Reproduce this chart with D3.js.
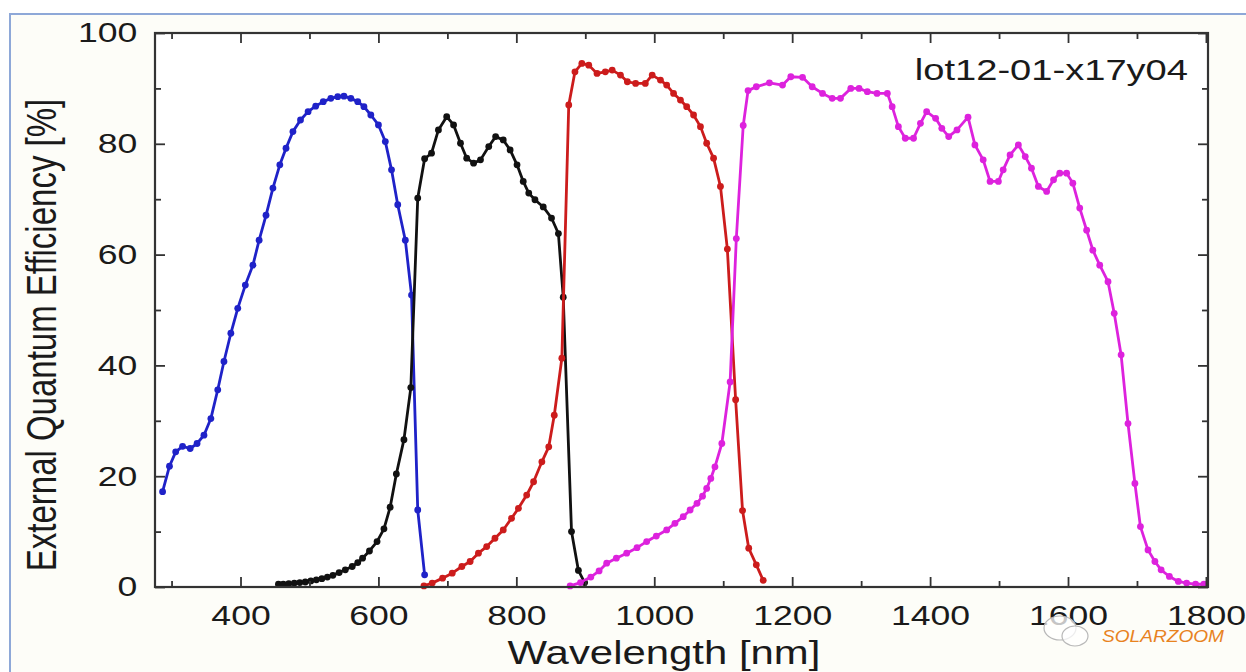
<!DOCTYPE html>
<html>
<head>
<meta charset="utf-8">
<script src="https://cdn.jsdelivr.net/npm/d3@7"></script>
<style>
  html, body { margin: 0; padding: 0; background: #fff; }
  svg text { font-family: "Liberation Sans", Arial, sans-serif; fill: #1a1a1a; }
</style>
</head>
<body>
<div id="chart"></div>
<script>
// wavelength [nm] and EQE [%] per sub-cell
const blueNm = [287, 297, 306, 316, 327, 337, 347, 357, 367, 376, 386, 396, 407, 418, 427, 437, 447, 457, 466, 476,
  487, 498, 509, 520, 531, 541, 550, 560, 570, 579, 589, 600, 610, 619, 628, 639, 648, 657, 667];
const blueEqe = [17.2, 21.8, 24.4, 25.4, 25.0, 25.9, 27.4, 30.4, 35.6, 40.7, 45.8, 50.3, 54.5, 58.1, 62.6, 67.1, 72.0, 76.2, 79.2, 82.2,
  84.3, 85.8, 86.8, 87.6, 88.2, 88.5, 88.6, 88.2, 87.6, 86.7, 85.2, 83.4, 80.4, 75.3, 69.0, 62.6, 52.7, 13.9, 2.2];

const blackNm = [455, 462, 470, 478, 486, 494, 502, 510, 518, 526, 534, 543, 552, 562, 570, 577, 587, 598, 608, 617,
  626, 637, 647, 657, 667, 677, 687, 699, 709, 719, 728, 738, 748, 760, 770, 781, 791, 801, 810, 818,
  827, 839, 851, 861, 868, 880, 890, 899];
const blackEqe = [0.5, 0.5, 0.6, 0.7, 0.8, 0.9, 1.1, 1.3, 1.5, 1.8, 2.1, 2.6, 3.1, 3.7, 4.4, 5.2, 6.5, 8.2, 10.5, 14.4,
  20.4, 26.6, 36.0, 70.2, 77.3, 78.3, 82.5, 84.9, 83.4, 80.1, 77.4, 76.5, 77.1, 79.5, 81.3, 80.7, 78.9, 76.2, 73.2, 71.1,
  69.9, 68.6, 66.6, 63.8, 52.3, 10.0, 3.0, 0.8];

const redNm = [666, 678, 693, 707, 721, 733, 745, 757, 769, 781, 793, 803, 815, 825, 837, 847, 855, 866, 876, 885,
  895, 905, 917, 929, 939, 951, 961, 973, 987, 997, 1009, 1018, 1028, 1038, 1047, 1057, 1067, 1076, 1086, 1096,
  1106, 1118, 1128, 1137, 1148, 1158];
const redEqe = [0.2, 0.7, 1.6, 2.5, 3.7, 4.6, 6.1, 7.3, 8.8, 10.3, 12.4, 14.2, 16.6, 19.0, 22.6, 25.3, 31.0, 41.3, 87.0, 93.0,
  94.5, 94.2, 92.7, 93.0, 93.3, 92.4, 91.2, 90.9, 90.9, 92.4, 91.5, 90.6, 89.1, 87.9, 86.7, 85.2, 83.1, 80.1, 77.4, 72.3,
  61.0, 33.8, 13.8, 7.0, 4.0, 1.2];

const magentaNm = [878, 893, 908, 920, 931, 945, 960, 975, 989, 1003, 1018, 1030, 1042, 1052, 1062, 1070, 1076, 1082, 1088, 1098,
  1110, 1119, 1129, 1136, 1148, 1167, 1186, 1198, 1215, 1229, 1244, 1258, 1270, 1285, 1297, 1309, 1323, 1338, 1345, 1354,
  1364, 1376, 1386, 1395, 1408, 1417, 1427, 1439, 1455, 1465, 1477, 1487, 1499, 1506, 1516, 1528, 1538, 1547, 1557, 1569,
  1579, 1588, 1598, 1607, 1617, 1627, 1636, 1646, 1658, 1667, 1677, 1687, 1697, 1705, 1716, 1726, 1735, 1747, 1760, 1772,
  1785, 1797];
const magentaEqe = [0.2, 0.8, 1.8, 2.9, 4.3, 5.2, 6.1, 7.1, 8.2, 9.2, 10.3, 11.5, 12.7, 13.9, 15.1, 16.4, 17.8, 19.6, 21.7, 25.9,
  37.0, 62.9, 83.3, 89.6, 90.3, 91.0, 90.6, 92.1, 92.0, 90.3, 89.1, 88.2, 88.2, 90.0, 90.0, 89.4, 89.1, 89.1, 86.7, 83.1,
  81.0, 81.0, 83.7, 85.8, 84.6, 82.8, 81.3, 82.5, 84.8, 79.8, 77.1, 73.2, 73.2, 75.3, 78.0, 79.8, 77.7, 75.6, 72.3, 71.4,
  73.5, 74.7, 74.7, 72.9, 68.4, 64.4, 60.8, 58.1, 55.1, 49.4, 41.9, 29.5, 18.7, 10.9, 6.7, 4.6, 3.1, 1.9, 1.0, 0.7,
  0.5, 0.5];

const xMajor = [400, 600, 800, 1000, 1200, 1400, 1600, 1800];
const xMinor = [300, 500, 700, 900, 1100, 1300, 1500, 1700];
const yMajor = [0, 20, 40, 60, 80, 100];
const yMinor = [10, 30, 50, 70, 90];

const W = 1246, H = 672;
const plotL = 155, plotR = 1208, plotT = 33, plotB = 587;
const stretch = 1.27; // the picture is widened horizontally

const svg = d3.select("#chart").append("svg")
  .attr("width", W).attr("height", H);

// outer frame of the picture
svg.append("rect").attr("x", 10).attr("y", 14).attr("width", W - 9).attr("height", H - 13)
  .attr("fill", "#fdfdf8").attr("stroke", "#8ea8d8").attr("stroke-width", 2);

const x = d3.scaleLinear().domain([276, 1803]).range([plotL, plotR]);
const y = d3.scaleLinear().domain([0, 100]).range([plotB, plotT]);

svg.append("rect").attr("x", plotL).attr("y", plotT)
  .attr("width", plotR - plotL).attr("height", plotB - plotT).attr("fill", "#fff");

// curves
const series = [
  {nm: blueNm, eqe: blueEqe, color: "#1f22c8"},
  {nm: blackNm, eqe: blackEqe, color: "#111111"},
  {nm: redNm, eqe: redEqe, color: "#cc1c1c"},
  {nm: magentaNm, eqe: magentaEqe, color: "#dd22dd"}
];

const line = d3.line().x(d => x(d[0])).y(d => y(d[1]));

const plot = svg.append("g");
series.forEach(s => {
  const pts = s.nm.map((v, i) => [v, s.eqe[i]]);
  const g = plot.append("g");
  g.append("path").datum(pts)
    .attr("d", line).attr("fill", "none")
    .attr("stroke", s.color).attr("stroke-width", 2.8).attr("stroke-linejoin", "round");
  g.selectAll("circle").data(pts).enter().append("circle")
    .attr("cx", d => x(d[0])).attr("cy", d => y(d[1])).attr("r", 3.4)
    .attr("fill", s.color);
});

// axes: inward ticks on all four sides
function styleAxis(g) {
  g.select(".domain").remove();
  g.selectAll("line").attr("stroke", "#333").attr("stroke-width", 1.8);
}

svg.append("g").attr("transform", `translate(0,${plotB})`)
  .call(d3.axisBottom(x).tickValues(xMajor).tickSizeInner(-10).tickSizeOuter(0).tickPadding(18).tickFormat(d3.format("d")))
  .call(styleAxis)
  .call(g => g.selectAll("text").attr("font-size", 28).attr("fill", "#1a1a1a")
    .attr("transform", `scale(${stretch},1)`));
svg.append("g").attr("transform", `translate(0,${plotB})`)
  .call(d3.axisBottom(x).tickValues(xMinor).tickSizeInner(-6).tickSizeOuter(0).tickFormat(""))
  .call(styleAxis);
svg.append("g").attr("transform", `translate(0,${plotT})`)
  .call(d3.axisTop(x).tickValues(xMajor).tickSizeInner(-10).tickSizeOuter(0).tickFormat(""))
  .call(styleAxis);
svg.append("g").attr("transform", `translate(0,${plotT})`)
  .call(d3.axisTop(x).tickValues(xMinor).tickSizeInner(-6).tickSizeOuter(0).tickFormat(""))
  .call(styleAxis);

svg.append("g").attr("transform", `translate(${plotL},0)`)
  .call(d3.axisLeft(y).tickValues(yMajor).tickSizeInner(-10).tickSizeOuter(0).tickPadding(14))
  .call(styleAxis)
  .call(g => g.selectAll("text").attr("font-size", 28).attr("fill", "#1a1a1a")
    .attr("transform", `scale(${stretch},1)`));
svg.append("g").attr("transform", `translate(${plotL},0)`)
  .call(d3.axisLeft(y).tickValues(yMinor).tickSizeInner(-6).tickSizeOuter(0).tickFormat(""))
  .call(styleAxis);
svg.append("g").attr("transform", `translate(${plotR},0)`)
  .call(d3.axisRight(y).tickValues(yMajor).tickSizeInner(-10).tickSizeOuter(0).tickFormat(""))
  .call(styleAxis);
svg.append("g").attr("transform", `translate(${plotR},0)`)
  .call(d3.axisRight(y).tickValues(yMinor).tickSizeInner(-6).tickSizeOuter(0).tickFormat(""))
  .call(styleAxis);

svg.append("rect").attr("x", plotL).attr("y", plotT)
  .attr("width", plotR - plotL).attr("height", plotB - plotT)
  .attr("fill", "none").attr("stroke", "#333").attr("stroke-width", 2.2);

// labels
svg.append("text")
  .attr("transform", `translate(664,664) scale(${stretch},1)`)
  .attr("text-anchor", "middle").attr("font-size", 33)
  .text("Wavelength [nm]");

svg.append("text")
  .attr("transform", `translate(56,335) scale(${stretch},1) rotate(-90)`)
  .attr("text-anchor", "middle").attr("font-size", 33)
  .text("External Quantum Efficiency [%]");

svg.append("text")
  .attr("transform", `translate(1188,80) scale(${stretch},1)`)
  .attr("text-anchor", "end").attr("font-size", 30)
  .text("lot12-01-x17y04");

// watermark
const wm = svg.append("g");
wm.append("ellipse").attr("cx", 1060).attr("cy", 628).attr("rx", 16).attr("ry", 12)
  .attr("fill", "#fff").attr("fill-opacity", 0.75).attr("stroke", "#b8b8b8").attr("stroke-width", 1.2);
wm.append("ellipse").attr("cx", 1075).attr("cy", 636).attr("rx", 13).attr("ry", 10)
  .attr("fill", "#fff").attr("fill-opacity", 0.75).attr("stroke", "#b8b8b8").attr("stroke-width", 1.2);
wm.append("text").attr("x", 1102).attr("y", 642)
  .attr("font-size", 16).attr("textLength", 122).attr("lengthAdjust", "spacingAndGlyphs")
  .attr("font-style", "italic").style("fill", "#e8831f")
  .text("SOLARZOOM");
</script>
</body>
</html>
